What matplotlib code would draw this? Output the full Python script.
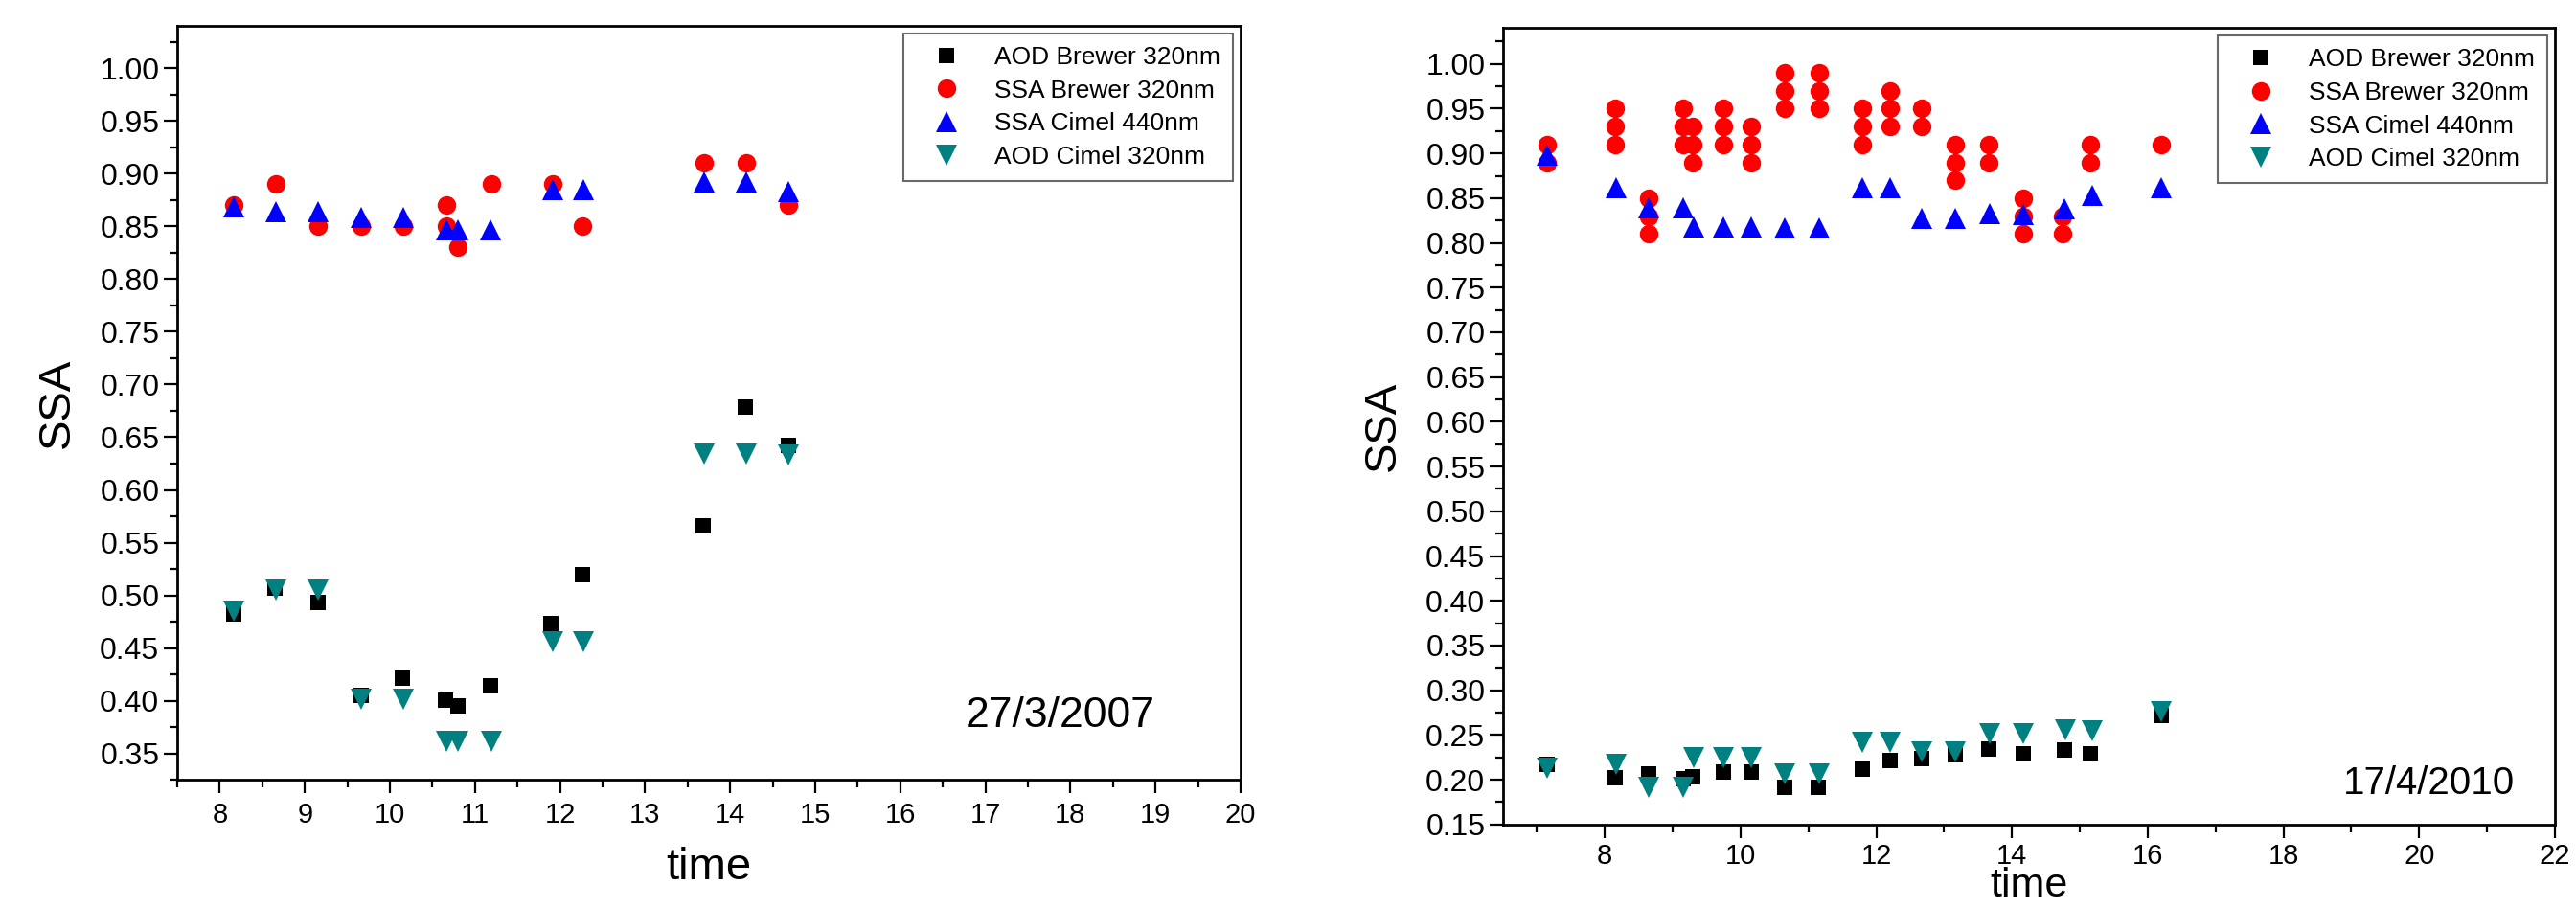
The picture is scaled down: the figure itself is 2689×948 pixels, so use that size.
import matplotlib
matplotlib.use("Agg")
from matplotlib import pyplot as plt
from matplotlib.ticker import MultipleLocator, FormatStrFormatter

plt.rcParams['font.family'] = ['Liberation Sans', 'DejaVu Sans']

# ---- 27/3/2007 ----
t_aod_brewer_07 = [8.16, 8.65, 9.16, 9.66, 10.15, 10.65, 10.80, 11.18, 11.89, 12.26, 13.68, 14.18, 14.68]
aod_brewer_07 = [0.482, 0.507, 0.493, 0.405, 0.422, 0.401, 0.395, 0.414, 0.473, 0.520, 0.566, 0.679, 0.642]

t_ssa_brewer_07 = [8.16, 8.66, 9.16, 9.66, 10.16, 10.66, 10.66, 10.80, 11.19, 11.91, 12.26, 13.69, 14.19, 14.69]
ssa_brewer_07 = [0.87, 0.89, 0.85, 0.85, 0.85, 0.87, 0.85, 0.83, 0.89, 0.89, 0.85, 0.91, 0.91, 0.87]

t_ssa_cimel_07 = [8.16, 8.66, 9.16, 9.66, 10.16, 10.66, 10.80, 11.18, 11.91, 12.27, 13.69, 14.19, 14.69]
ssa_cimel_07 = [0.868, 0.864, 0.864, 0.858, 0.858, 0.847, 0.847, 0.847, 0.885, 0.885, 0.892, 0.892, 0.883]

t_aod_cimel_07 = [8.16, 8.66, 9.16, 9.66, 10.16, 10.66, 10.80, 11.19, 11.91, 12.27, 13.69, 14.19, 14.69]
aod_cimel_07 = [0.485, 0.505, 0.505, 0.402, 0.402, 0.362, 0.362, 0.362, 0.456, 0.456, 0.634, 0.634, 0.633]

# ---- 17/4/2010 ----
t_aod_brewer_10 = [7.15, 8.15, 8.65, 9.16, 9.30, 9.74, 10.15, 10.65, 11.14, 11.79, 12.20, 12.67, 13.16, 13.66, 14.16, 14.77, 15.16, 16.2]
aod_brewer_10 = [0.217, 0.202, 0.207, 0.201, 0.203, 0.209, 0.209, 0.191, 0.191, 0.212, 0.221, 0.224, 0.228, 0.234, 0.229, 0.233, 0.229, 0.272]

t_ssa_brewer_10 = [7.15, 7.15,
                   8.15, 8.15, 8.15,
                   8.65, 8.65, 8.65,
                   9.15, 9.15, 9.15,
                   9.30, 9.30, 9.30,
                   9.74, 9.74, 9.74,
                   10.15, 10.15, 10.15,
                   10.65, 10.65, 10.65,
                   11.16, 11.16, 11.16,
                   11.79, 11.79, 11.79,
                   12.20, 12.20, 12.20,
                   12.67, 12.67,
                   13.16, 13.16, 13.16,
                   13.66, 13.66,
                   14.16, 14.16, 14.16,
                   14.75, 14.75,
                   15.16, 15.16,
                   16.2]
ssa_brewer_10 = [0.91, 0.89,
                 0.95, 0.93, 0.91,
                 0.85, 0.83, 0.81,
                 0.95, 0.93, 0.91,
                 0.93, 0.91, 0.89,
                 0.95, 0.93, 0.91,
                 0.93, 0.91, 0.89,
                 0.99, 0.97, 0.95,
                 0.99, 0.97, 0.95,
                 0.95, 0.93, 0.91,
                 0.97, 0.95, 0.93,
                 0.95, 0.93,
                 0.91, 0.89, 0.87,
                 0.91, 0.89,
                 0.85, 0.83, 0.81,
                 0.83, 0.81,
                 0.91, 0.89,
                 0.91]

t_ssa_cimel_10 = [7.15, 8.16, 8.65, 9.15, 9.31, 9.74, 10.15, 10.65, 11.16, 11.79, 12.20, 12.67, 13.17, 13.67, 14.17, 14.77, 15.18, 16.2]
ssa_cimel_10 = [0.898, 0.862, 0.839, 0.839, 0.818, 0.818, 0.818, 0.817, 0.817, 0.862, 0.862, 0.827, 0.827, 0.833, 0.832, 0.838, 0.853, 0.862]

t_aod_cimel_10 = [7.15, 8.16, 8.65, 9.16, 9.31, 9.74, 10.15, 10.65, 11.16, 11.79, 12.20, 12.67, 13.17, 13.67, 14.17, 14.78, 15.18, 16.2]
aod_cimel_10 = [0.213, 0.217, 0.191, 0.191, 0.225, 0.225, 0.225, 0.206, 0.206, 0.242, 0.242, 0.231, 0.231, 0.252, 0.252, 0.256, 0.255, 0.276]

labels = ["AOD Brewer 320nm", "SSA Brewer 320nm", "SSA Cimel 440nm", "AOD Cimel 320nm"]


def panel(ax, series, xlim, ylim, xmajor, ymin_label, date, date_pos, date_size,
          xlabel_size, xlabelpad, xtickpad):
    styles = [("s", "black", 12), ("o", "#ff0000", 14), ("^", "#0000ff", 16), ("v", "#008080", 16)]
    for (x, y), lab, (m, c, ms) in zip(series, labels, styles):
        ax.plot(x, y, linestyle="none", marker=m, color=c, markersize=ms,
                markeredgewidth=0, label=lab)
    ax.set_xlim(*xlim)
    ax.set_ylim(*ylim)
    ax.xaxis.set_major_locator(MultipleLocator(xmajor))
    ax.xaxis.set_minor_locator(MultipleLocator(xmajor / 2))
    ax.set_yticks([round(ymin_label + 0.05 * i, 2) for i in range(int(round((1.0 - ymin_label) / 0.05)) + 1)])
    ax.yaxis.set_minor_locator(MultipleLocator(0.025))
    ax.yaxis.set_major_formatter(FormatStrFormatter("%.2f"))
    ax.tick_params(which="major", direction="out", length=10, width=1.6)
    ax.tick_params(which="minor", direction="out", length=6, width=1.6)
    ax.tick_params(axis="x", labelsize=21, pad=xtickpad)
    ax.tick_params(axis="y", labelsize=23)
    for s in ax.spines.values():
        s.set_linewidth(2)
    ax.set_xlabel("time", fontsize=xlabel_size, labelpad=xlabelpad)
    ax.set_ylabel("SSA", fontsize=34, labelpad=16)
    ax.text(date_pos[0], date_pos[1], date, transform=ax.transAxes, fontsize=date_size,
            ha="right", va="center")
    leg = ax.legend(loc="upper right", fontsize=19, frameon=True, fancybox=False,
                    borderaxespad=0.3, handlelength=2.4, handletextpad=0.7,
                    borderpad=0.5, labelspacing=0.4)
    leg.get_frame().set_edgecolor("#444444")
    leg.get_frame().set_linewidth(1.5)


fig = plt.figure(figsize=(26.89, 9.48), dpi=100)
ax1 = fig.add_axes([0.0688, 0.141, 0.4128, 0.8305])
ax2 = fig.add_axes([0.5835, 0.092, 0.4083, 0.877])

panel(ax1,
      [(t_aod_brewer_07, aod_brewer_07), (t_ssa_brewer_07, ssa_brewer_07),
       (t_ssa_cimel_07, ssa_cimel_07), (t_aod_cimel_07, aod_cimel_07)],
      (7.5, 20), (0.325, 1.04), 1, 0.35, "27/3/2007", (0.92, 0.085), 32, 34, 14, 6)
panel(ax2,
      [(t_aod_brewer_10, aod_brewer_10), (t_ssa_brewer_10, ssa_brewer_10),
       (t_ssa_cimel_10, ssa_cimel_10), (t_aod_cimel_10, aod_cimel_10)],
      (6.5, 22), (0.15, 1.04), 2, 0.15, "17/4/2010", (0.962, 0.052), 29, 31, -2, 4)

fig.savefig("out.png", dpi=100)
